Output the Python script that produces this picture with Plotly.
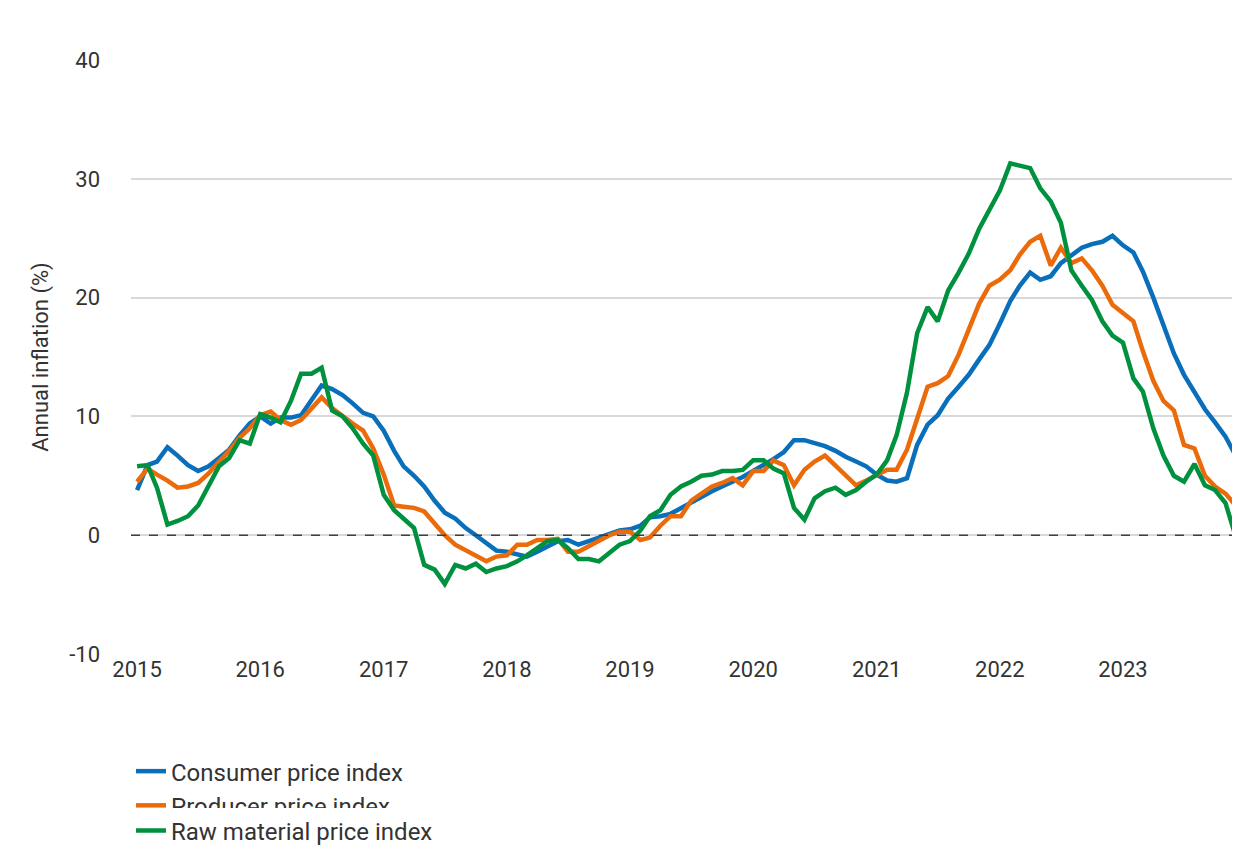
import plotly.graph_objects as go
import pandas as pd

months = pd.date_range("2015-01-01", "2023-12-01", freq="MS")

cpi = [3.8,5.9,6.2,7.4,6.7,5.9,5.4,5.8,6.5,7.2,8.4,9.4,
       10.0,9.4,9.9,9.9,10.1,11.3,12.6,12.3,11.8,11.1,10.3,10.0,
       8.8,7.1,5.8,5.0,4.1,2.9,1.9,1.4,0.6,0.0,-0.7,-1.3,
       -1.4,-1.6,-1.8,-1.4,-1.0,-0.5,-0.4,-0.8,-0.5,-0.2,0.2,0.4,
       0.5,0.8,1.5,1.6,1.8,2.3,2.8,3.3,3.7,4.1,4.5,4.9,
       5.4,5.9,6.4,7.0,8.0,8.0,7.8,7.5,7.1,6.6,6.2,5.8,
       5.1,4.6,4.5,4.8,7.6,9.3,10.1,11.5,12.5,13.5,14.8,16.0,
       17.8,19.7,21.0,22.1,21.5,21.8,22.9,23.6,24.2,24.5,24.7,25.2,
       24.4,23.8,22.2,20.0,17.6,15.3,13.5,12.0,10.6,9.5,8.3,6.7]

ppi = [4.5,5.6,5.1,4.6,4.0,4.1,4.4,5.2,6.2,7.1,8.2,9.0,
       10.1,10.4,9.7,9.3,9.7,10.7,11.6,10.7,10.0,9.4,8.8,7.3,
       5.1,2.5,2.4,2.3,2.0,1.0,0.0,-0.8,-1.3,-1.7,-2.2,-1.8,
       -1.7,-0.8,-0.8,-0.4,-0.4,-0.3,-1.4,-1.4,-0.9,-0.5,0.0,0.3,
       0.3,-0.4,-0.2,0.8,1.6,1.6,2.9,3.5,4.1,4.4,4.8,4.2,
       5.4,5.4,6.3,5.9,4.2,5.5,6.2,6.7,5.9,5.1,4.2,4.6,
       5.0,5.5,5.5,7.2,9.8,12.5,12.8,13.4,15.2,17.4,19.5,21.0,
       21.5,22.3,23.6,24.7,25.2,22.7,24.2,22.9,23.3,22.3,21.0,19.4,
       18.7,18.0,15.5,13.0,11.3,10.5,7.6,7.3,5.0,4.1,3.5,2.5]

raw = [5.8,5.9,4.0,0.9,1.2,1.6,2.5,4.2,5.8,6.5,8.0,7.7,
       10.2,9.9,9.5,11.3,13.6,13.6,14.1,10.5,10.0,9.0,7.7,6.7,
       3.4,2.1,1.4,0.6,-2.5,-2.9,-4.1,-2.5,-2.8,-2.4,-3.1,-2.8,
       -2.6,-2.2,-1.7,-1.1,-0.5,-0.4,-1.1,-2.0,-2.0,-2.2,-1.5,-0.8,
       -0.5,0.4,1.6,2.1,3.4,4.1,4.5,5.0,5.1,5.4,5.4,5.5,
       6.3,6.3,5.6,5.2,2.3,1.3,3.1,3.7,4.0,3.4,3.8,4.5,
       5.1,6.3,8.4,12.0,17.0,19.2,18.0,20.6,22.1,23.7,25.8,27.3,
       29.0,31.3,31.1,30.9,29.2,28.1,26.3,22.3,21.0,19.8,18.0,16.8,
       16.2,13.2,12.1,9.0,6.7,5.0,4.5,6.0,4.2,3.8,2.7,-0.1]

series_names = ["Consumer price index", "Producer price index", "Raw material price index"]
colors = ["#0a6fba", "#eb6a0a", "#00913f"]
legends = ["legend", "legend", "legend2"]
ytick_vals = [-10, 0, 10, 20, 30, 40]
ytick_text = ["-10", "0", "10", "20", "30", "40"]

fig = go.Figure()
for name, vals, c, lg in zip(series_names, [cpi, ppi, raw], colors, legends):
    fig.add_trace(go.Scatter(x=months, y=vals, mode="lines", name=name, legend=lg,
                             line=dict(color=c, width=4.5)))

fig.add_hline(y=0, line=dict(color="#404040", width=1.5, dash="dash"))

legfont = dict(size=24, color="#333333")
fig.update_layout(
    width=1240, height=860,
    margin=dict(l=123, r=10, t=52, b=214, autoexpand=False),
    plot_bgcolor="white", paper_bgcolor="white",
    font=dict(family="Roboto", size=22, color="#333333"),
    showlegend=True,
    legend=dict(orientation="h", x=0.0, xanchor="left", y=-0.16, yanchor="top",
                entrywidth=540, entrywidthmode="pixels", font=legfont),
    legend2=dict(orientation="h", x=0.0, xanchor="left", y=-0.26, yanchor="top",
                 font=legfont),
    xaxis=dict(range=["2014-12-14", "2023-12-08"], tickformat="%Y", dtick="M12",
               tick0="2015-01-01", showgrid=False, zeroline=False, showline=False,
               ticks="", tickfont=dict(size=22)),
    yaxis=dict(range=[-10, 40], tickvals=ytick_vals, ticktext=ytick_text,
               showgrid=True, gridcolor="#d9d9d9",
               gridwidth=1.5, zeroline=False, showline=False, ticks="",
               ticklabelstandoff=30,
               title=dict(text="Annual inflation (%)", font=dict(size=22), standoff=14)),
)

fig.write_html("out.html")
